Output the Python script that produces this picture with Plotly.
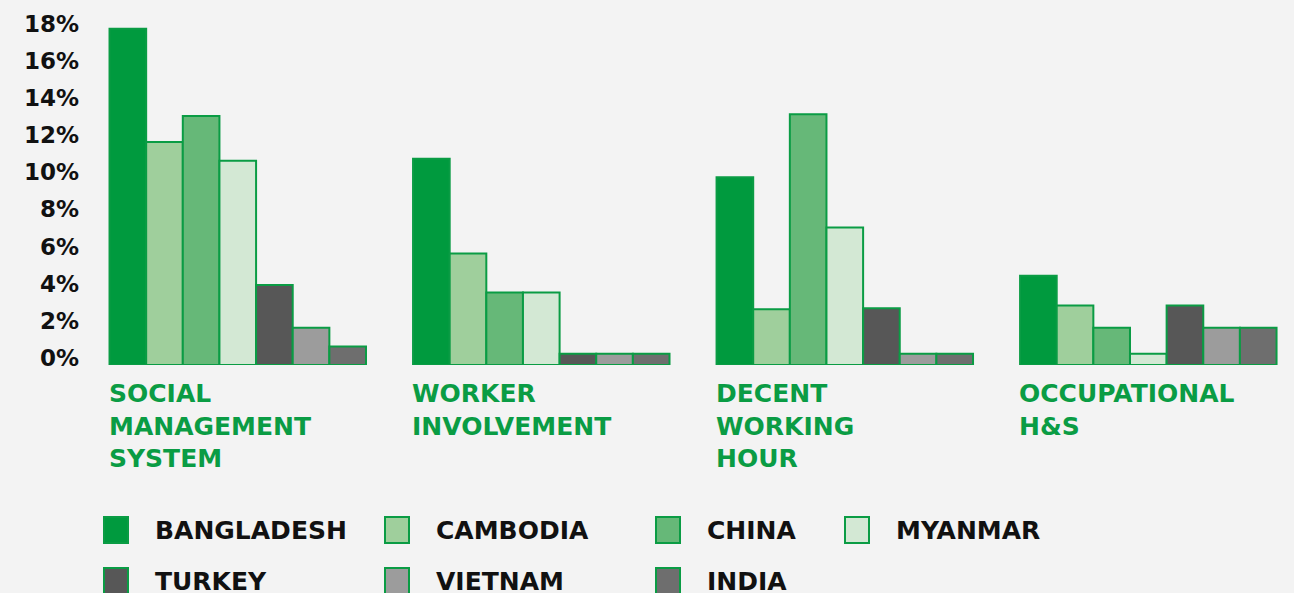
import plotly.graph_objects as go

categories = ["SOCIAL<br>MANAGEMENT<br>SYSTEM", "WORKER<br>INVOLVEMENT", "DECENT<br>WORKING<br>HOUR", "OCCUPATIONAL<br>H&S"]
countries = ["BANGLADESH", "CAMBODIA", "CHINA", "MYANMAR", "TURKEY", "VIETNAM", "INDIA"]

bangladesh = [18.1, 11.1, 10.1, 4.8]
cambodia = [12.0, 6.0, 3.0, 3.2]
china = [13.4, 3.9, 13.5, 2.0]
myanmar = [11.0, 3.9, 7.4, 0.6]
turkey = [4.3, 0.6, 3.05, 3.2]
vietnam = [2.0, 0.6, 0.6, 2.0]
india = [1.0, 0.6, 0.6, 2.0]

series = [bangladesh, cambodia, china, myanmar, turkey, vietnam, india]
colors = ["#009a3e", "#9fcf9c", "#66b878", "#d3e8d4", "#575757", "#9c9c9c", "#6e6e6e"]
tick_values = [0, 2, 4, 6, 8, 10, 12, 14, 16, 18]
tick_text = [f"{v}%" for v in tick_values]

GREEN = "#0a9c44"
FONT = "DejaVu Sans"

# plot area in pixels: left 86, right 1294, top 12, bottom 365
L, R, T, B = 86, 1294, 12, 365


def px_x(p):
    return (p - L) / (R - L)


def px_y(p):
    return (B - p) / (B - T)


fig = go.Figure()
xs = list(range(len(categories)))
for name, vals, col in zip(countries, series, colors):
    fig.add_trace(go.Bar(
        name=name,
        x=xs,
        y=vals,
        marker=dict(color=col, line=dict(color=GREEN, width=2)),
        showlegend=False,
    ))

fig.update_layout(
    width=1294,
    height=593,
    barmode="group",
    bargap=0.155,
    bargroupgap=0,
    paper_bgcolor="#f3f3f3",
    plot_bgcolor="rgba(0,0,0,0)",
    margin=dict(l=L, r=1294 - R, t=T, b=593 - B),
    font=dict(family=FONT),
    xaxis=dict(range=[-0.5, 3.48], showticklabels=False, showgrid=False,
               zeroline=False, showline=False, ticks=""),
    yaxis=dict(range=[0, 19], tickvals=tick_values, ticktext=tick_text,
               showgrid=False, zeroline=False, showline=False, ticks="",
               ticklabelshift=-7, ticklabelstandoff=6,
               tickfont=dict(family=FONT, size=23, color="#111111", weight="bold")),
)

# category labels under each group
group_half = (1 - 0.155) / 2
for i, cat in enumerate(categories):
    fig.add_annotation(
        x=i - group_half, xref="x", xanchor="left", xshift=-3,
        y=px_y(377), yref="paper", yanchor="top",
        text=cat, showarrow=False, align="left",
        font=dict(family=FONT, size=25, color=GREEN, weight="bold"),
    )

# legend drawn by hand (big squares, two rows)
square_x = [104, 385, 656, 845]
row_y = [530, 581]
for k, (name, col) in enumerate(zip(countries, colors)):
    row, colpos = divmod(k, 4)
    sx = square_x[colpos]
    cy = row_y[row]
    fig.add_shape(type="rect", xref="paper", yref="paper",
                  x0=px_x(sx), x1=px_x(sx + 24), y0=px_y(cy - 13), y1=px_y(cy + 13),
                  fillcolor=col, line=dict(color=GREEN, width=2))
    fig.add_annotation(
        x=px_x(sx + 49), xref="paper", xanchor="left",
        y=px_y(cy), yref="paper", yanchor="middle",
        text=name, showarrow=False,
        font=dict(family=FONT, size=25, color="#111111", weight="bold"),
    )

fig.write_html("out.html", config={"displayModeBar": False},
               post_script="document.body.style.margin='0';")
